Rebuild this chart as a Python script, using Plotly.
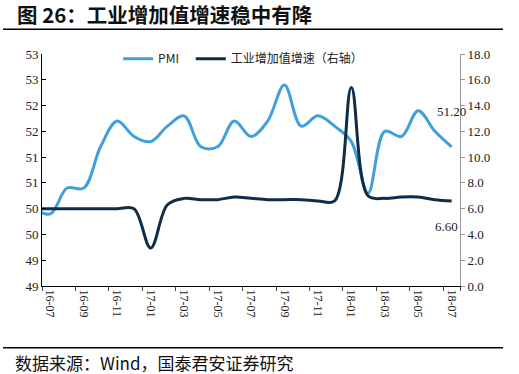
import plotly.graph_objects as go

months = ["16-06", "16-07", "16-08", "16-09", "16-10", "16-11", "16-12",
          "17-01", "17-02", "17-03", "17-04", "17-05", "17-06", "17-07",
          "17-08", "17-09", "17-10", "17-11", "17-12",
          "18-01", "18-02", "18-03", "18-04", "18-05", "18-06", "18-07"]
pmi = [50.0, 49.9, 50.4, 50.4, 51.2, 51.7, 51.4,
       51.3, 51.6, 51.8, 51.2, 51.2, 51.7, 51.4, 51.7, 52.4, 51.6, 51.8, 51.6,
       51.3, 50.3, 51.5, 51.4, 51.9, 51.5, 51.2]
ip_growth = [6.0, 6.0, 6.0, 6.0, 6.0, 6.0, 6.0,
             2.95, 6.3, 6.8, 6.7, 6.7, 6.9, 6.8, 6.7, 6.7, 6.7, 6.6, 6.6,
             15.4, 7.0, 6.8, 6.9, 6.9, 6.7, 6.6]
left_tick_vals = [48.5, 49.0, 49.5, 50.0, 50.5, 51.0, 51.5, 52.0, 52.5, 53.0]
left_tick_text = ["49", "49", "50", "50", "51", "51", "52", "52", "53", "53"]
x_tick_labels = ["16-07", "16-09", "16-11", "17-01", "17-03", "17-05", "17-07",
                 "17-09", "17-11", "18-01", "18-03", "18-05", "18-07"]

LIGHT = "#40A0DC"
DARK = "#0F2D48"
SERIF = "Liberation Serif"
CJK = "Noto Sans CJK SC"

fig = go.Figure()
fig.add_trace(go.Scatter(
    x=months, y=pmi, name="PMI", mode="lines",
    line=dict(color=LIGHT, width=3, shape="spline", smoothing=1.0),
    yaxis="y", legend="legend"))
fig.add_trace(go.Scatter(
    x=months, y=ip_growth, name="工业增加值增速（右轴）", mode="lines",
    line=dict(color=DARK, width=3, shape="spline", smoothing=1.0),
    yaxis="y2", legend="legend2"))

legend_common = dict(orientation="h", y=1.042, xanchor="left", yanchor="top",
                     font=dict(family=CJK, size=12, color="#222"),
                     bgcolor="rgba(0,0,0,0)", itemwidth=30)

fig.update_layout(
    width=519, height=374,
    margin=dict(l=42, r=59, t=54, b=88),
    paper_bgcolor="white", plot_bgcolor="white",
    showlegend=True,
    legend=dict(x=0.182, **legend_common),
    legend2=dict(x=0.356, **legend_common),
    xaxis=dict(type="category", categoryorder="array", categoryarray=months,
               range=[0.5, 25.5], tickmode="array",
               tickvals=x_tick_labels, ticktext=x_tick_labels,
               tickangle=90, tickson="boundaries",
               ticks="outside", ticklen=4, tickcolor="#444",
               showline=True, linecolor="black", linewidth=1,
               showgrid=False, zeroline=False,
               tickfont=dict(family=SERIF, size=12, color="#222")),
    yaxis=dict(range=[48.5, 53.0], tickmode="array",
               tickvals=left_tick_vals, ticktext=left_tick_text,
               ticks="inside", ticklen=4, tickcolor="black",
               showline=True, linecolor="black", linewidth=1,
               showgrid=False, zeroline=False,
               tickfont=dict(family=SERIF, size=13, color="#222")),
    yaxis2=dict(range=[0, 18], dtick=2, tick0=0, tickformat=".1f",
                overlaying="y", side="right",
                ticks="outside", ticklen=4, tickcolor="#999",
                showline=True, linecolor="#999", linewidth=1,
                showgrid=False, zeroline=False,
                tickfont=dict(family=SERIF, size=13, color="#222")),
)

# end-point data labels
fig.add_annotation(x=months[-1], y=pmi[-1], yref="y", text=f"{pmi[-1]:.2f}",
                   showarrow=False, yshift=35,
                   font=dict(family=SERIF, size=13, color="#222"))
fig.add_annotation(x=months[-1], y=ip_growth[-1], yref="y2", text=f"{ip_growth[-1]:.2f}",
                   showarrow=False, yshift=-26, xshift=-5,
                   font=dict(family=SERIF, size=13, color="#222"))

# title and source
fig.add_annotation(xref="paper", yref="paper", x=-0.0646, y=1.0, yshift=40,
                   xanchor="left", yanchor="middle", showarrow=False,
                   text="<b>图 26：工业增加值增速稳中有降</b>",
                   font=dict(family=CJK, size=20.5, color="#111"))
fig.add_annotation(xref="paper", yref="paper", x=-0.0687, y=0, yshift=-76,
                   xanchor="left", yanchor="middle", showarrow=False,
                   text="数据来源：Wind，国泰君安证券研究",
                   font=dict(family=CJK, size=17, color="#111"))
fig.add_shape(type="line", xref="paper", yref="paper", x0=-0.0933, x1=1.103,
              y0=1.1065, y1=1.1065, line=dict(color="black", width=1.5))
fig.add_shape(type="line", xref="paper", yref="paper", x0=-0.0933, x1=1.103,
              y0=-0.266, y1=-0.266, line=dict(color="black", width=1.5))

fig.write_html("out.html", config={"displayModeBar": False},
               post_script="document.body.style.margin='0';document.body.style.overflow='hidden';")
